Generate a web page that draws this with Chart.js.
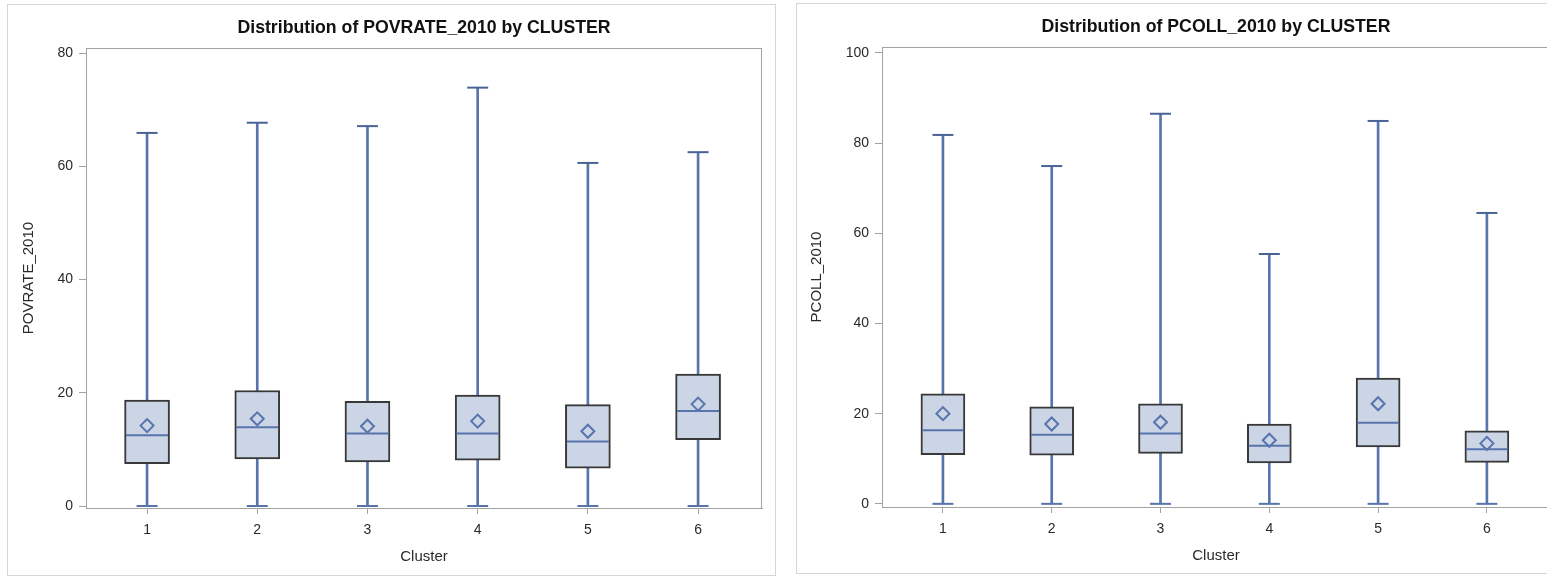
<!DOCTYPE html>
<html>
<head>
<meta charset="utf-8">
<title>Distribution by CLUSTER</title>
<script src="https://cdn.jsdelivr.net/npm/chart.js@4.4.1/dist/chart.umd.min.js"></script>
<style>
    html, body { margin: 0; padding: 0; background: #fff; overflow: hidden; }
    body { width: 1547px; height: 577px; position: relative; }
    .panel { position: absolute; border: 1px solid #d6d6d6; box-sizing: border-box; background: #fff; }
    #leftPanel { left: 7px; top: 4px; width: 769px; height: 572px; }
    #rightPanel { left: 796px; top: 3px; width: 769px; height: 571px; }
    canvas { display: block; }
</style>
</head>
<body>
<div class="panel" id="leftPanel"><canvas id="povChart" width="767" height="570"></canvas></div>
<div class="panel" id="rightPanel"><canvas id="pcollChart" width="767" height="569"></canvas></div>

<script>
// Categories
const clusters = [1, 2, 3, 4, 5, 6];

// POVRATE_2010 by cluster
const povMin = [0, 0, 0, 0, 0, 0];
const povQ1 = [7.5, 8.3, 7.8, 8.1, 6.7, 11.7];
const povMedian = [12.5, 13.9, 12.8, 12.8, 11.4, 16.8];
const povMean = [14.2, 15.4, 14.1, 15.0, 13.2, 18.0];
const povQ3 = [18.7, 20.4, 18.5, 19.6, 17.9, 23.3];
const povMax = [65.9, 67.7, 67.1, 73.9, 60.6, 62.5];
const povTicks = [0, 20, 40, 60, 80];

// PCOLL_2010 by cluster
const pcollMin = [0, 0, 0, 0, 0, 0];
const pcollQ1 = [10.9, 10.8, 11.2, 9.1, 12.6, 9.2];
const pcollMedian = [16.3, 15.3, 15.6, 12.9, 18.0, 12.1];
const pcollMean = [20.0, 17.7, 18.1, 14.1, 22.2, 13.4];
const pcollQ3 = [24.4, 21.5, 22.2, 17.7, 27.9, 16.2];
const pcollMax = [81.8, 74.9, 86.5, 55.4, 84.9, 64.5];
const pcollTicks = [0, 20, 40, 60, 80, 100];

// Colors
const boxFill = '#cbd5e6';
const boxBorder = '#383838';
const whiskerColor = '#5874ac';
const axisColor = '#a3a3a3';
const textColor = '#2a2a2a';
const fontFamily = '"Liberation Sans", Arial, sans-serif';

// Draws the plot frame and the chart texts around the chart area
const panelText = {
    id: 'panelText',
    beforeDatasetsDraw(chart) {
        const { ctx, chartArea } = chart;
        ctx.save();
        ctx.strokeStyle = axisColor;
        ctx.lineWidth = 1;
        ctx.strokeRect(chartArea.left + 0.5, chartArea.top + 0.5,
            chartArea.right - chartArea.left - 1, chartArea.bottom - chartArea.top);
        ctx.restore();
    },
    afterDraw(chart, args, opts) {
        const { ctx, chartArea } = chart;
        const cx = (chartArea.left + chartArea.right) / 2;
        const cy = (chartArea.top + chartArea.bottom) / 2;
        ctx.save();
        ctx.textAlign = 'center';
        ctx.textBaseline = 'middle';

        ctx.fillStyle = '#111';
        ctx.font = 'bold 17.7px ' + fontFamily;
        ctx.fillText(opts.title, cx, chartArea.top - 20);

        ctx.fillStyle = textColor;
        ctx.font = '15px ' + fontFamily;
        ctx.fillText(opts.xLabel, cx, chartArea.bottom + 49);

        ctx.translate(chartArea.left - opts.yLabelOffset, cy);
        ctx.rotate(-Math.PI / 2);
        ctx.fillText(opts.yLabel, 0, 0);
        ctx.restore();
    }
};

function pointsFrom(values) {
    return clusters.map((c, i) => ({ x: c, y: values[i] }));
}

function rangesFrom(low, high) {
    return clusters.map((c, i) => ({ x: c, y: [low[i], high[i]] }));
}

function createBoxChart(canvasId, s) {
    const ctx = document.getElementById(canvasId).getContext('2d');
    return new Chart(ctx, {
        type: 'bar',
        data: {
            datasets: [
                {
                    label: 'Mean',
                    type: 'scatter',
                    data: pointsFrom(s.mean),
                    pointStyle: 'rectRot',
                    pointRadius: 6.5,
                    borderColor: whiskerColor,
                    backgroundColor: 'rgba(0,0,0,0)',
                    borderWidth: 2,
                    clip: false,
                    order: 1
                },
                {
                    label: 'Median',
                    type: 'scatter',
                    data: pointsFrom(s.median),
                    pointStyle: 'line',
                    pointRadius: s.boxWidth / 2 - 1.5,
                    borderColor: whiskerColor,
                    borderWidth: 2,
                    clip: false,
                    order: 2
                },
                {
                    label: 'Box',
                    data: rangesFrom(s.q1, s.q3),
                    backgroundColor: boxFill,
                    borderColor: boxBorder,
                    borderWidth: 2,
                    borderSkipped: false,
                    barThickness: s.boxWidth,
                    grouped: false,
                    order: 3
                },
                {
                    label: 'Max cap',
                    type: 'scatter',
                    data: pointsFrom(s.max),
                    pointStyle: 'line',
                    pointRadius: 10.5,
                    borderColor: '#4a6397',
                    borderWidth: 2,
                    clip: false,
                    order: 4
                },
                {
                    label: 'Min cap',
                    type: 'scatter',
                    data: pointsFrom(s.min),
                    pointStyle: 'line',
                    pointRadius: 10.5,
                    borderColor: whiskerColor,
                    borderWidth: 2,
                    clip: false,
                    order: 4
                },
                {
                    label: 'Whisker',
                    data: rangesFrom(s.min, s.max),
                    backgroundColor: whiskerColor,
                    borderWidth: 0,
                    barThickness: 2,
                    grouped: false,
                    order: 5
                }
            ]
        },
        options: {
            responsive: false,
            animation: false,
            layout: {
                // the median/cap markers are wide; don't let them push the plot inward
                autoPadding: false,
                padding: { top: 43, right: s.padRight, left: 0, bottom: 0 }
            },
            scales: {
                x: {
                    type: 'linear',
                    offset: false,
                    min: s.xMin,
                    max: s.xMax,
                    afterBuildTicks: (scale) => {
                        scale.ticks = clusters.map(v => ({ value: v }));
                    },
                    afterFit: (scale) => {
                        scale.height = s.xHeight;
                        scale.paddingLeft = 0;
                        scale.paddingRight = 0;
                    },
                    grid: {
                        drawOnChartArea: false,
                        offset: false,
                        tickLength: 6,
                        color: axisColor
                    },
                    border: { color: axisColor },
                    ticks: {
                        padding: 8,
                        color: textColor,
                        font: { size: 14, family: fontFamily },
                        callback: (v) => String(v)
                    }
                },
                y: {
                    min: s.yMin,
                    max: s.yMax,
                    afterBuildTicks: (scale) => {
                        scale.ticks = s.yTicks.map(v => ({ value: v }));
                    },
                    afterFit: (scale) => { scale.width = s.yWidth; },
                    grid: {
                        drawOnChartArea: false,
                        tickLength: 7,
                        color: axisColor
                    },
                    border: { color: axisColor },
                    ticks: {
                        padding: 6,
                        color: textColor,
                        font: { size: 14, family: fontFamily }
                    }
                }
            },
            plugins: {
                legend: { display: false },
                tooltip: { enabled: false },
                panelText: {
                    title: s.title,
                    xLabel: 'Cluster',
                    yLabel: s.yLabel,
                    yLabelOffset: s.yLabelOffset
                }
            }
        },
        plugins: [panelText]
    });
}

createBoxChart('povChart', {
    title: 'Distribution of POVRATE_2010 by CLUSTER',
    yLabel: 'POVRATE_2010',
    min: povMin, q1: povQ1, median: povMedian, mean: povMean, q3: povQ3, max: povMax,
    yTicks: povTicks,
    yMin: -0.35, yMax: 80.9,
    xMin: 0.446, xMax: 6.58,
    boxWidth: 45,
    yWidth: 78, xHeight: 67, padRight: 13,
    yLabelOffset: 57
});

createBoxChart('pcollChart', {
    title: 'Distribution of PCOLL_2010 by CLUSTER',
    yLabel: 'PCOLL_2010',
    min: pcollMin, q1: pcollQ1, median: pcollMedian, mean: pcollMean, q3: pcollQ3, max: pcollMax,
    yTicks: pcollTicks,
    yMin: -0.7, yMax: 101.3,
    xMin: 0.44, xMax: 6.58,
    boxWidth: 44,
    yWidth: 85, xHeight: 66, padRight: 14,
    yLabelOffset: 65
});
</script>
</body>
</html>
